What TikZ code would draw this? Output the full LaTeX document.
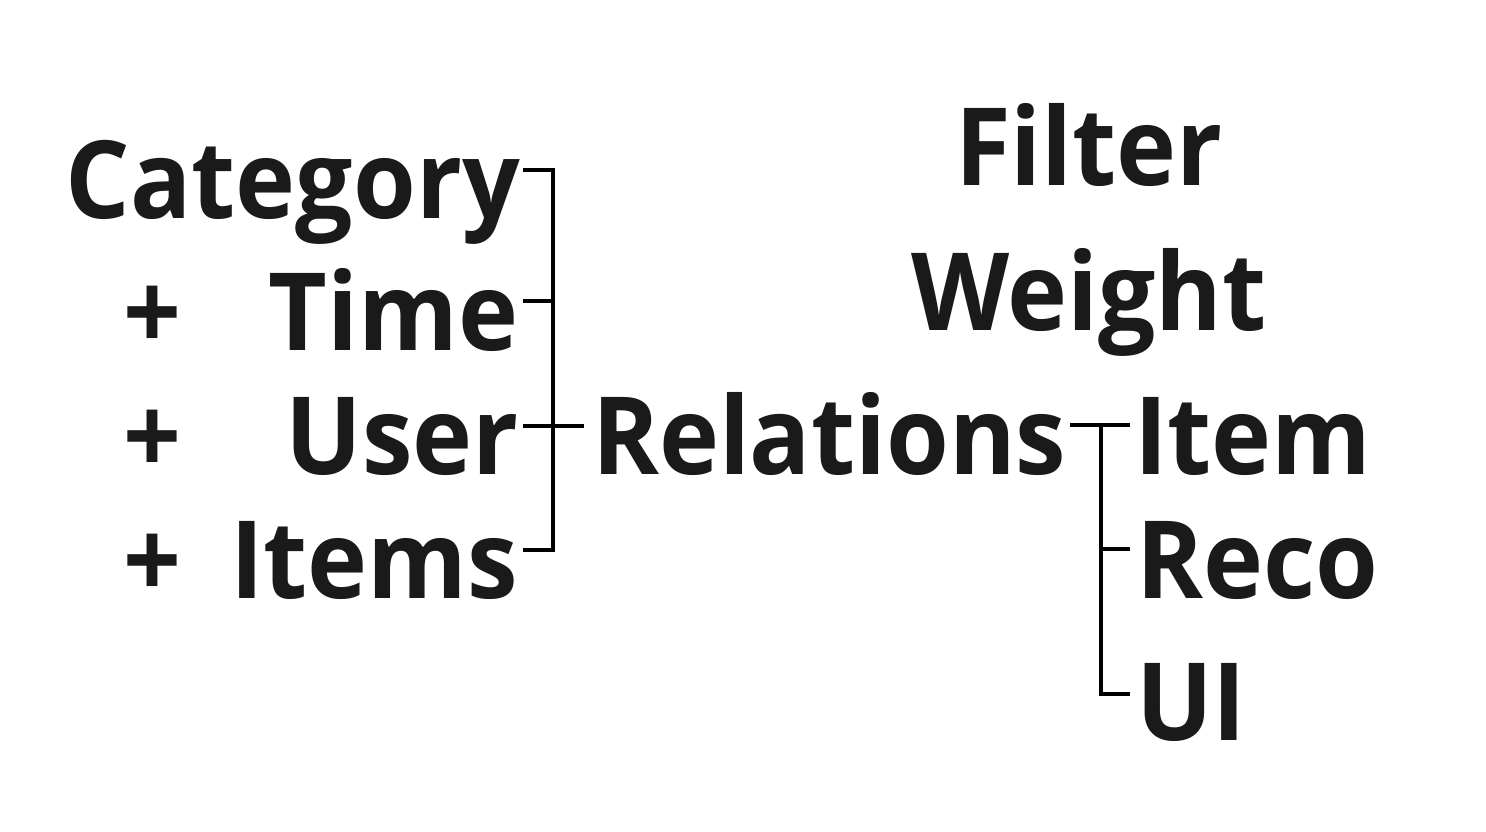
\documentclass[tikz,border=0pt]{standalone}
\usepackage{fontspec}
\setmainfont{Open Sans}[FakeStretch=0.94]
\definecolor{ink}{HTML}{1A1A1A}
\begin{document}
\begin{tikzpicture}[x=1pt,y=-1pt,
  word/.style={inner sep=0pt,outer sep=0pt,font=\fontsize{108}{110}\selectfont\bfseries,text=ink},
  wl/.style={word,anchor=base west},
  wr/.style={word,anchor=base east},
  wc/.style={word,anchor=base},
  link/.style={line width=4.2pt,draw=black}]
\useasboundingbox[fill=white] (0,0) rectangle (1486,831);
% left column
\node[wr] (cat) at (520,218) {Category};
\node[wr] (time) at (518,350) {Time};
\node[wr] (user) at (519,474) {User};
\node[wr] (items) at (518,598) {Items};
\node[wc] (p1) at (152,350) {+};
\node[wc] (p2) at (152,474) {+};
\node[wc] (p3) at (152,598) {+};
% middle
\node[wl] (rel) at (592,474) {Relations};
% right
\node[wc] (filter) at (1089,185) {Filter};
\node[wc] (weight) at (1089,330) {Weight};
\node[wl] (item) at (1134,474) {Item};
\node[wl] (reco) at (1136,598) {Reco};
\node[wl] (ui) at (1136,740) {UI};
% left bracket
\coordinate (c1) at (523,170);
\coordinate (c2) at (523,301);
\coordinate (c3) at (523,426);
\coordinate (c4) at (523,550);
\coordinate (b1) at (553,170);
\coordinate (b2) at (553,301);
\coordinate (b3) at (553,426);
\coordinate (b4) at (553,550);
\coordinate (r0) at (584,426);
\draw[link] (c1) -- (b1) -- (b4) -- (c4);
\draw[link] (c2) -- (b2);
\draw[link] (c3) -- (r0);
% right bracket
\coordinate (s0) at (1070,425);
\coordinate (d1) at (1101,425);
\coordinate (d2) at (1101,549);
\coordinate (d3) at (1101,694);
\coordinate (e1) at (1130,425);
\coordinate (e2) at (1130,549);
\coordinate (e3) at (1130,694);
\draw[link] (s0) -- (e1);
\draw[link] (d1) -- (d3) -- (e3);
\draw[link] (d2) -- (e2);
\end{tikzpicture}
\end{document}
